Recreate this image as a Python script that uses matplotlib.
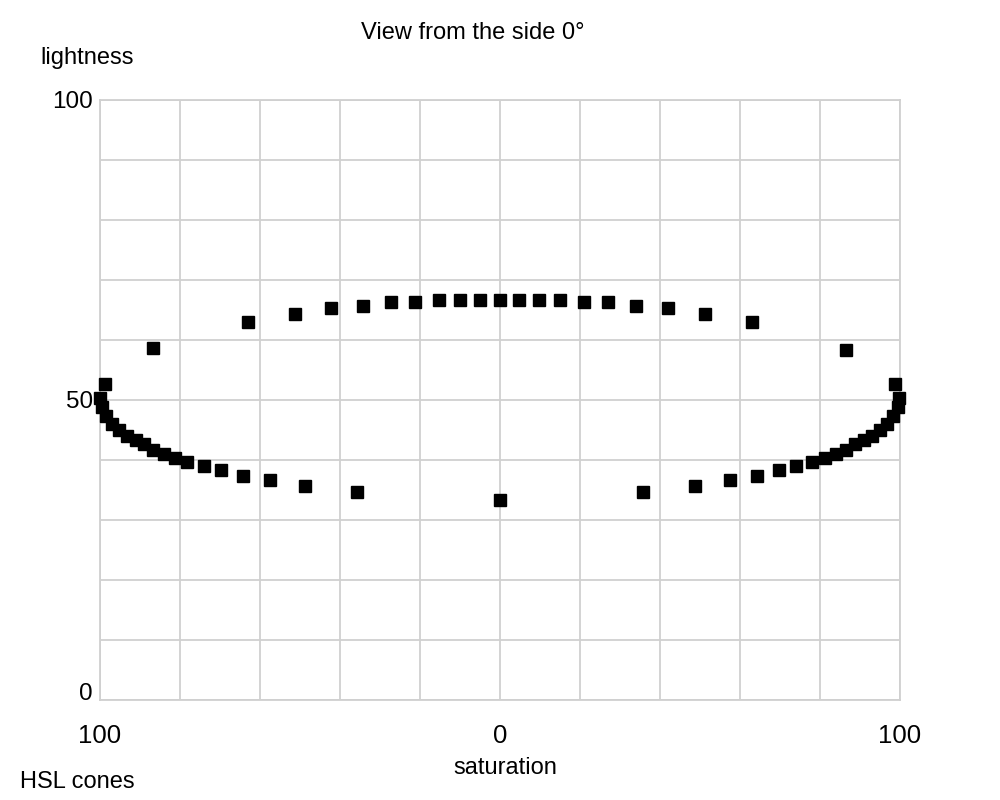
import matplotlib.pyplot as plt
import numpy as np

plt.rcParams['font.family'] = ['Liberation Sans', 'DejaVu Sans']

# signed saturation (left side negative), lightness
upper_sat = [-98.8, -86.7, -63.1, -51.25, -42.25, -34.25, -27.2, -21.25, -15.25, -10, -5, 0,
             4.8, 9.75, 15, 21.1, 27, 34.1, 42.1, 51.2, 63, 86.5, 98.75]
upper_light = [52.7, 58.7, 63.05, 64.3, 65.4, 65.7, 66.4, 66.4, 66.7, 66.7, 66.7, 66.7,
               66.7, 66.7, 66.7, 66.4, 66.4, 65.7, 65.4, 64.3, 63.05, 58.3, 52.7]

lower_sat = [-100, -99.6, -98.6, -97, -95.25, -93.2, -91.1, -89, -86.7, -84.1, -81.2, -78.2,
             -74.1, -69.75, -64.3, -57.5, -48.75, -35.75, 0,
             35.7, 48.75, 57.4, 64.2, 69.7, 74, 78.1, 81.2, 83.9, 86.5, 88.8, 91, 93.1,
             95.1, 96.8, 98.3, 99.6, 99.8]
lower_light = [50.3, 48.8, 47.3, 46, 45.05, 44.05, 43.3, 42.7, 41.7, 41, 40.3, 39.7,
               39.05, 38.3, 37.3, 36.7, 35.7, 34.7, 33.3,
               34.7, 35.7, 36.7, 37.3, 38.3, 39.05, 39.7, 40.3, 41, 41.7, 42.7, 43.3, 44.05,
               45.05, 46, 47.3, 48.8, 50.3]

x_ticks = np.arange(-100, 101, 20)
x_labels = ['100', '', '', '', '', '0', '', '', '', '', '100']
y_ticks = np.arange(0, 101, 10)
y_labels = ['0', '', '', '', '', '50', '', '', '', '', '100']

fig = plt.figure(figsize=[10, 8], dpi=100)
ax = fig.add_axes([0.1, 0.125, 0.8, 0.75])

ax.plot(upper_sat, upper_light, 's', color='black', markersize=8, clip_on=False, zorder=3)
ax.plot(lower_sat, lower_light, 's', color='black', markersize=8, clip_on=False, zorder=3)

ax.set_xlim(-100, 100)
ax.set_ylim(0, 100)
ax.set_xticks(x_ticks, x_labels)
ax.set_yticks(y_ticks, y_labels)
ax.tick_params(length=0, labelsize=18.5)
ax.tick_params(axis='x', pad=17)
ax.tick_params(axis='y', pad=5, labelsize=17.5)
for lab in ax.get_yticklabels():
    if lab.get_text() == '0':
        lab.set_verticalalignment('baseline')
    if lab.get_text() == '100':
        lab.set_verticalalignment('center_baseline')
ax.grid(True, color='#d0d0d0', linewidth=1.3)
for s in ax.spines.values():
    s.set_color('#d0d0d0')
    s.set_linewidth(1.3)

fig.text(0.473, 0.959, 'View from the side 0°', ha='center', va='center', fontsize=17)
fig.text(0.04, 0.928, 'lightness', ha='left', va='center', fontsize=17)
fig.text(0.505, 0.040, 'saturation', ha='center', va='center', fontsize=17)
fig.text(0.02, 0.022, 'HSL cones', ha='left', va='center', fontsize=17)

plt.savefig('out.png')
